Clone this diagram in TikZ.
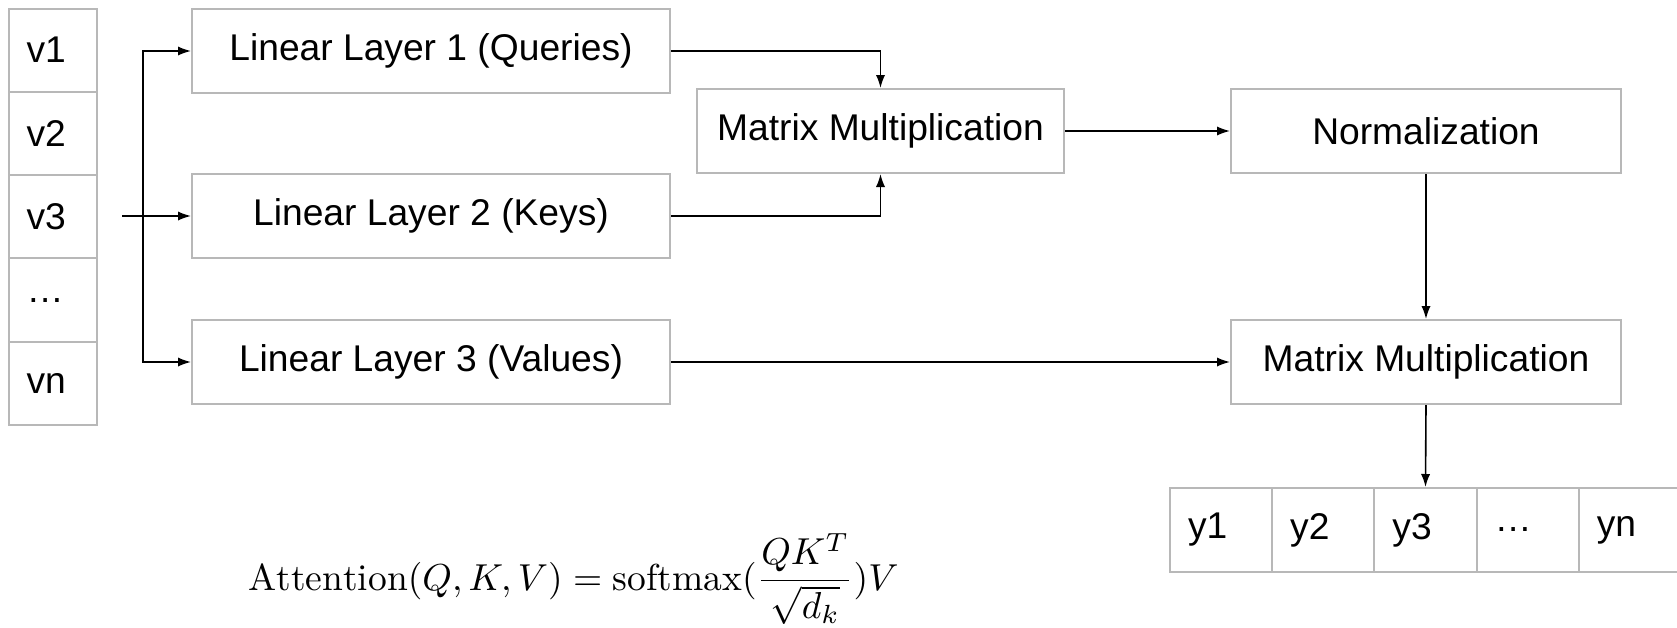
\documentclass[tikz,border=0pt]{standalone}
\usepackage{graphicx}
\usepackage{fontspec}
\newfontfamily\arial{Liberation Sans}
\usetikzlibrary{arrows.meta}
\begin{document}
\begin{tikzpicture}[x=0.5pt,y=-0.5pt,
  cellbox/.style={draw=black!28, line width=1pt, inner sep=0pt,
    font=\arial\fontsize{18.6}{22}\selectfont},
  vcell/.style={cellbox, text width=26.25pt, align=left, inner xsep=9pt,
    minimum height=41.65pt},
  ycell/.style={cellbox, text width=33.1pt, align=left, inner xsep=9pt,
    minimum height=42pt},
  layerbox/.style={cellbox, minimum width=239pt, minimum height=42pt},
  opbox/.style={cellbox, minimum height=42pt},
  arr/.style={draw=black, line width=0.8pt, -{Latex[length=6.5pt,width=4.6pt]}},
  wire/.style={draw=black, line width=0.8pt}
]
\useasboundingbox (0,0) rectangle (1677,627);

% input sequence
\foreach \t [count=\i] in {v1,v2,v3,…,vn}
  \node[vcell] (v\i) at (52.75,{8.5+(\i-0.5)*83.3}) {\t};

% linear projections
\node[layerbox] (lin1) at (431,51)  {Linear Layer 1 (Queries)};
\node[layerbox] (lin2) at (431,216) {Linear Layer 2 (Keys)};
\node[layerbox] (lin3) at (431,362) {Linear Layer 3 (Values)};

% attention operations
\node[opbox, minimum width=183.5pt] (mm1)  at (880.5,131) {Matrix Multiplication};
\node[opbox, minimum width=195pt]   (norm) at (1426,131)  {Normalization};
\node[opbox, minimum width=195pt]   (mm2)  at (1426,362)  {Matrix Multiplication};

% output sequence
\foreach \t [count=\i] in {y1,y2,y3,…,yn}
  \node[ycell] (y\i) at ({1170+(\i-0.5)*102.2},530) {\t};

% fan-out of the input
\coordinate (src) at (122,216);
\coordinate (split) at (143,216);
\draw[arr] (src) -- (lin2.west);
\draw[arr] (split) |- (lin1.west);
\draw[arr] (split) |- (lin3.west);

% data flow
\draw[arr] (lin1.east) -| (mm1.north);
\draw[arr] (lin2.east) -| (mm1.south);
\draw[arr] (mm1.east) -- (norm.west);
\draw[arr] (norm.south) -- (mm2.north);
\draw[arr] (lin3.east) -- (mm2.west);
\draw[arr] (mm2.south) -- (y3.north);

% formula
\node[anchor=base west, inner sep=0pt] (eq) at (248,590)
  {\resizebox{325pt}{!}{$\displaystyle \mathrm{Attention}(Q, K, V) = \mathrm{softmax}(\frac{QK^T}{\sqrt{d_k}})V$}};
\end{tikzpicture}
\end{document}
